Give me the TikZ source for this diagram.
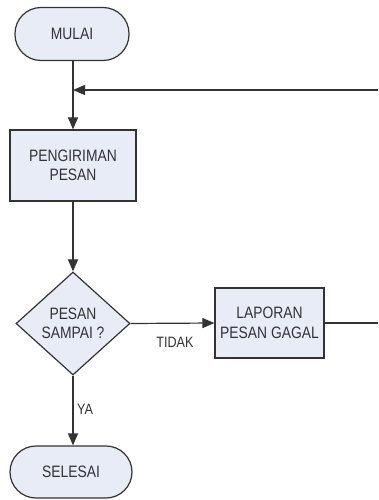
\documentclass[tikz,border=0pt]{standalone}
\usepackage{fontspec}
\setmainfont[FakeStretch=0.84]{Liberation Sans}
\usetikzlibrary{arrows.meta,shapes.geometric}
\definecolor{boxfill}{HTML}{E8ECF7}
\definecolor{ink}{HTML}{333333}
\begin{document}
\begin{tikzpicture}[x=1pt,y=-1pt,
  every node/.style={text=ink},
  base/.style={draw=ink,fill=boxfill,line width=1.2pt,align=center,
    font=\fontsize{16.5}{19.5}\selectfont,inner sep=0pt},
  terminal/.style={base,rounded corners=26pt,minimum width=114pt,minimum height=53pt},
  process/.style={base,minimum width=126pt,minimum height=71pt},
  decision/.style={base,diamond,minimum width=114pt,minimum height=103pt},
  flow/.style={draw=ink,line width=1.2pt,-{Triangle[length=12pt,width=10pt]}},
  plain/.style={draw=ink,line width=1.2pt},
  lbl/.style={font=\fontsize{15}{17}\selectfont,inner sep=0pt}]
\useasboundingbox[fill=white] (0,0) rectangle (378,500);

\node[terminal] (mulai) at (72,34) {MULAI};
\node[process] (kirim) at (73,165.5) {PENGIRIMAN\\PESAN};
\node[decision] (cek) at (73,323.5) {PESAN\\SAMPAI ?};
\node[process,minimum width=109pt,minimum height=70pt] (lapor) at (269.5,323) {LAPORAN\\PESAN GAGAL};
\node[terminal,minimum width=122pt,minimum height=52pt] (selesai) at (71,472) {SELESAI};

\coordinate (join) at (73,90);
\coordinate (edgeTop) at (378,90);
\coordinate (edgeMid) at (378,323);

\draw[plain] (mulai.south -| join) -- (join);
\draw[flow] (join) -- (kirim.north);
\draw[flow] (kirim) -- (cek);
\draw[flow] (cek.east) -- (lapor.west);
\draw[flow] (cek.south) -- (selesai.north -| cek.south);
\draw[plain] (lapor.east) -- (edgeMid);
\draw[flow] (edgeTop) -- (join);

\node[lbl] (tidak) at (175,342) {TIDAK};
\node[lbl,anchor=west] (ya) at (77,409) {YA};
\end{tikzpicture}
\end{document}
